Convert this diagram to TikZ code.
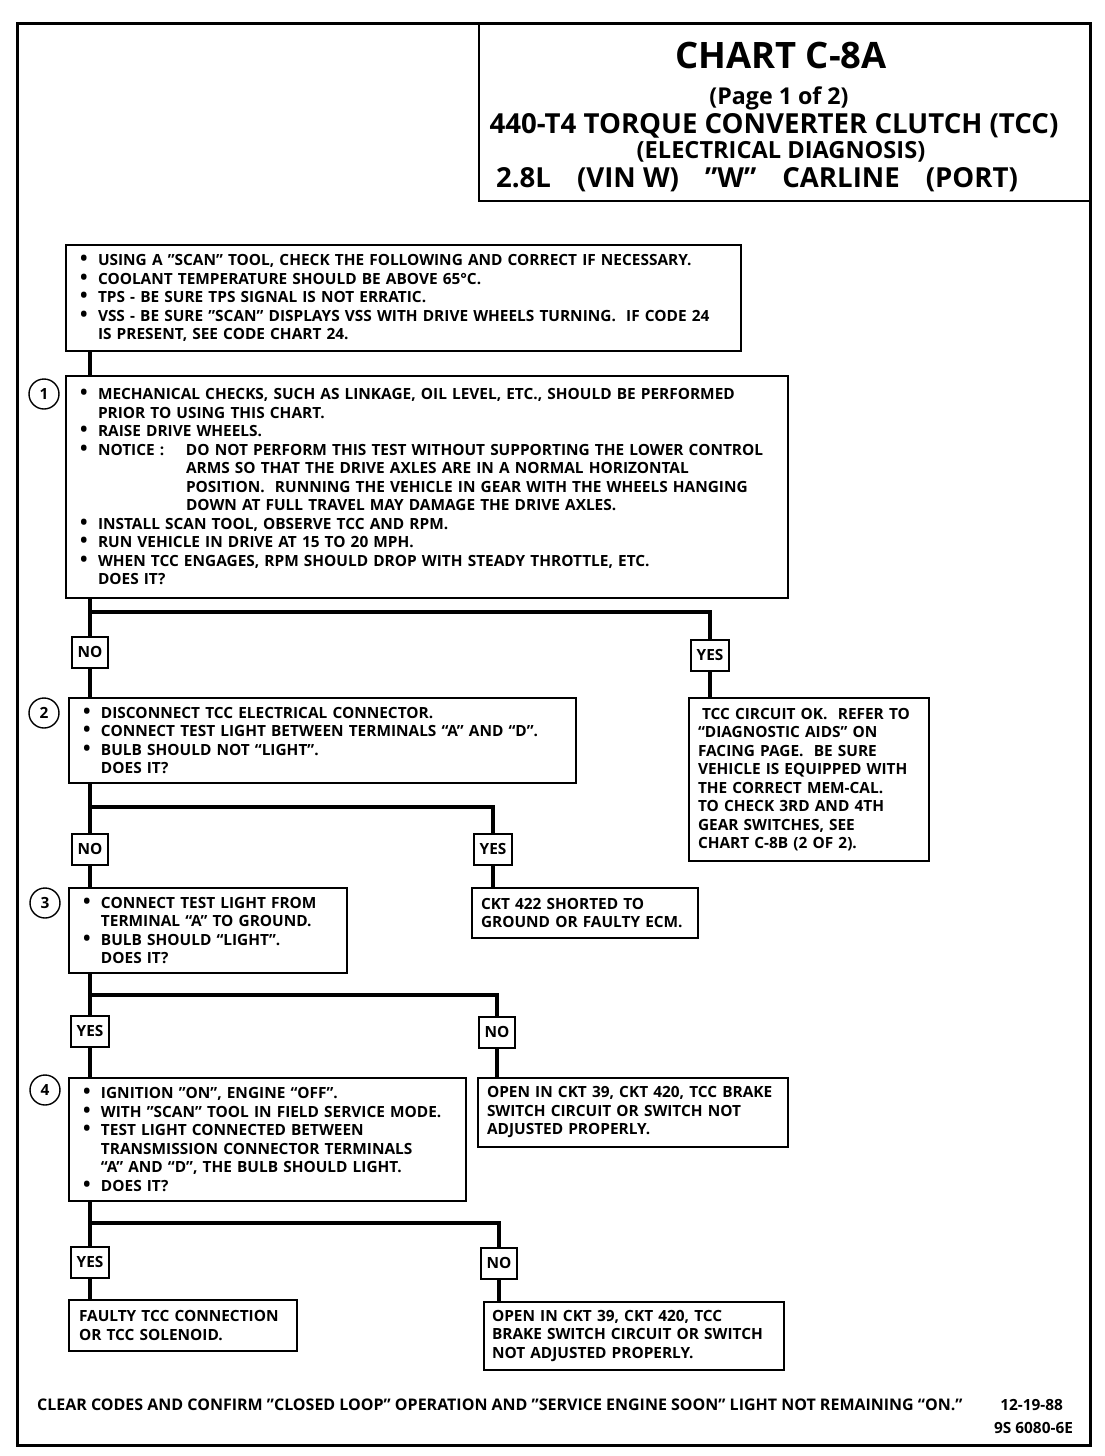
\documentclass[tikz,border=0pt]{standalone}
\usepackage{fontspec}
\setmainfont{Open Sans}
\usetikzlibrary{positioning,calc}

\newcommand\chartfont{\fontsize{7.7}{9.25}\selectfont\bfseries}
\newcommand\bul{\makebox[9pt][l]{\fontsize{10}{0}\selectfont\textbullet}}
\newcommand\ind{\hspace*{9pt}}

\tikzset{
  stepbox/.style={draw, line width=1pt, anchor=north west, align=left, font=\chartfont, inner ysep=0pt},
  answer/.style={draw, line width=1pt, font=\chartfont, minimum height=15.5pt, inner xsep=3pt, inner ysep=0pt},
  link/.style={line width=2.2pt},
  stepnum/.style={circle, draw, line width=0.7pt, minimum size=15pt, inner sep=0pt, font=\chartfont}
}

\begin{document}
\begin{tikzpicture}[x=0.5pt,y=-0.5pt]
\useasboundingbox (0,0) rectangle (1104,1456);

% frame and title block
\node[draw, line width=1.4pt, anchor=north west, minimum width=536.5pt, minimum height=711pt, inner sep=0pt] (frame) at (16,22) {};
\node[draw, line width=1pt, anchor=north east, minimum width=306pt, minimum height=89pt, inner sep=0pt] (titlebox) at (frame.north east) {};
\node[font=\fontsize{18.2}{20}\selectfont\bfseries] (chart) at (781,55) {CHART C-8A};
\node[font=\fontsize{11.6}{13}\selectfont\bfseries] (page) at (779,98) {(Page 1 of 2)};
\node[font=\fontsize{13.8}{15}\selectfont\bfseries] (tcc) at (774,126) {440-T4 TORQUE CONVERTER CLUTCH (TCC)};
\node[font=\fontsize{11.8}{13}\selectfont\bfseries] (elec) at (781,152) {(ELECTRICAL DIAGNOSIS)};
\node[font=\fontsize{13.8}{15}\selectfont\bfseries] (vin) at (757,180) {2.8L\hspace{13pt}(VIN W)\hspace{13pt}"W"\hspace{13pt}CARLINE\hspace{13pt}(PORT)};

% preliminary checks
\node[stepbox, inner xsep=7pt, text width=323.5pt, minimum height=53pt] (scan) at (65,244) {%
\bul \mbox{USING A "SCAN" TOOL, CHECK THE FOLLOWING AND CORRECT IF NECESSARY.}\\
\bul COOLANT TEMPERATURE SHOULD BE ABOVE 65°C.\\
\bul TPS - BE SURE TPS SIGNAL IS NOT ERRATIC.\\
\bul \mbox{VSS - BE SURE "SCAN" DISPLAYS VSS WITH DRIVE WHEELS TURNING.~ IF CODE 24}\\
\ind IS PRESENT, SEE CODE CHART 24.};

% step 1
\node[stepnum] (n1) at (44,394) {1};
\node[stepbox, inner xsep=7pt, text width=347pt, minimum height=111pt] (mech) at (65,375) {%
\bul \mbox{MECHANICAL CHECKS, SUCH AS LINKAGE, OIL LEVEL, ETC., SHOULD BE PERFORMED}\\
\ind PRIOR TO USING THIS CHART.\\
\bul RAISE DRIVE WHEELS.\\
\bul \mbox{\makebox[44pt][l]{NOTICE :}DO NOT PERFORM THIS TEST WITHOUT SUPPORTING THE LOWER CONTROL}\\
\ind\hspace*{44pt}\mbox{ARMS SO THAT THE DRIVE AXLES ARE IN A NORMAL HORIZONTAL}\\
\ind\hspace*{44pt}\mbox{POSITION.~ RUNNING THE VEHICLE IN GEAR WITH THE WHEELS HANGING}\\
\ind\hspace*{44pt}\mbox{DOWN AT FULL TRAVEL MAY DAMAGE THE DRIVE AXLES.}\\
\bul INSTALL SCAN TOOL, OBSERVE TCC AND RPM.\\
\bul RUN VEHICLE IN DRIVE AT 15 TO 20 MPH.\\
\bul \mbox{WHEN TCC ENGAGES, RPM SHOULD DROP WITH STEADY THROTTLE, ETC.}\\
\ind DOES IT?};

\node[answer] (no1) at (90,652) {NO};
\node[answer] (yes1) at (710,655) {YES};

% step 2
\node[stepnum] (n2) at (44,713) {2};
\node[stepbox, inner xsep=7pt, text width=239.5pt, minimum height=42.5pt] (disc) at (68,697) {%
\bul DISCONNECT TCC ELECTRICAL CONNECTOR.\\
\bul \mbox{CONNECT TEST LIGHT BETWEEN TERMINALS ``A'' AND ``D''.}\\
\bul BULB SHOULD NOT ``LIGHT''.\\
\ind DOES IT?};
\node[stepbox, inner xsep=4.5pt, text width=111pt, minimum height=81.5pt] (ok) at (688,697) {%
\mbox{\hspace*{2pt}TCC CIRCUIT OK.~ REFER TO}\\
\mbox{``DIAGNOSTIC AIDS'' ON}\\
\mbox{FACING PAGE.~ BE SURE}\\
\mbox{VEHICLE IS EQUIPPED WITH}\\
\mbox{THE CORRECT MEM-CAL.}\\
\mbox{TO CHECK 3RD AND 4TH}\\
\mbox{GEAR SWITCHES, SEE}\\
\mbox{CHART C-8B (2 OF 2).}};

\node[answer] (no2) at (90,849) {NO};
\node[answer] (yes2) at (493,849) {YES};

% step 3
\node[stepnum] (n3) at (45,903) {3};
\node[stepbox, inner xsep=7pt, text width=125pt, minimum height=42.5pt] (ground) at (68,887) {%
\bul \mbox{CONNECT TEST LIGHT FROM}\\
\ind \mbox{TERMINAL ``A'' TO GROUND.}\\
\bul \mbox{BULB SHOULD ``LIGHT''.}\\
\ind DOES IT?};
\node[stepbox, inner xsep=4.5pt, text width=104pt, minimum height=25pt] (ckt) at (471,887) {%
\mbox{CKT 422 SHORTED TO}\\
\mbox{GROUND OR FAULTY ECM.}};

\node[answer] (yes3) at (90,1031) {YES};
\node[answer] (no3) at (497,1032) {NO};

% step 4
\node[stepnum] (n4) at (45,1090) {4};
\node[stepbox, inner xsep=7pt, text width=184.5pt, minimum height=61.5pt] (ign) at (68,1077) {%
\bul \mbox{IGNITION "ON", ENGINE ``OFF''.}\\
\bul \mbox{WITH "SCAN" TOOL IN FIELD SERVICE MODE.}\\
\bul \mbox{TEST LIGHT CONNECTED BETWEEN}\\
\ind \mbox{TRANSMISSION CONNECTOR TERMINALS}\\
\ind \mbox{``A'' AND ``D'', THE BULB SHOULD LIGHT.}\\
\bul DOES IT?};
\node[stepbox, inner xsep=4.5pt, text width=146pt, minimum height=34.5pt] (open1) at (477,1077) {%
\mbox{OPEN IN CKT 39, CKT 420, TCC BRAKE}\\
\mbox{SWITCH CIRCUIT OR SWITCH NOT}\\
\mbox{ADJUSTED PROPERLY.}};

\node[answer] (yes4) at (90,1262) {YES};
\node[answer] (no4) at (499,1263) {NO};

% results
\node[stepbox, inner xsep=5pt, text width=104pt, minimum height=25.5pt] (faulty) at (68,1299) {%
\mbox{FAULTY TCC CONNECTION}\\
\mbox{OR TCC SOLENOID.}};
\node[stepbox, inner xsep=4pt, text width=142pt, minimum height=34pt] (open2) at (483,1301) {%
\mbox{OPEN IN CKT 39, CKT 420, TCC}\\
\mbox{BRAKE SWITCH CIRCUIT OR SWITCH}\\
\mbox{NOT ADJUSTED PROPERLY.}};

% footer
\node[anchor=west, font=\fontsize{8}{10}\selectfont\bfseries] (clear) at (30,1405) {CLEAR CODES AND CONFIRM "CLOSED LOOP" OPERATION AND "SERVICE ENGINE SOON" LIGHT NOT REMAINING ``ON.''};
\node[anchor=east, font=\chartfont] (date) at (1070,1405) {12-19-88};
\node[anchor=east, font=\chartfont] (docno) at (1080,1428) {9S 6080-6E};

% connectors
\coordinate (trunk) at (90,0);
\coordinate (j1) at (90,612);
\coordinate (j2) at (90,807);
\coordinate (j3) at (90,995);
\coordinate (j4) at (90,1223);
\draw[link] (scan.south -| trunk) -- (mech.north -| trunk);
\draw[link] (mech.south -| j1) -- (j1) -- (no1.north);
\draw[link] (j1) -| (yes1.north);
\draw[link] (no1.south) -- (disc.north -| no1);
\draw[link] (yes1.south) -- (ok.north -| yes1);
\draw[link] (disc.south -| j2) -- (j2) -- (no2.north);
\draw[link] (j2) -| (yes2.north);
\draw[link] (no2.south) -- (ground.north -| no2);
\draw[link] (yes2.south) -- (ckt.north -| yes2);
\draw[link] (ground.south -| j3) -- (j3) -- (yes3.north);
\draw[link] (j3) -| (no3.north);
\draw[link] (yes3.south) -- (ign.north -| yes3);
\draw[link] (no3.south) -- (open1.north -| no3);
\draw[link] (ign.south -| j4) -- (j4) -- (yes4.north);
\draw[link] (j4) -| (no4.north);
\draw[link] (yes4.south) -- (faulty.north -| yes4);
\draw[link] (no4.south) -- (open2.north -| no4);
\end{tikzpicture}
\end{document}
